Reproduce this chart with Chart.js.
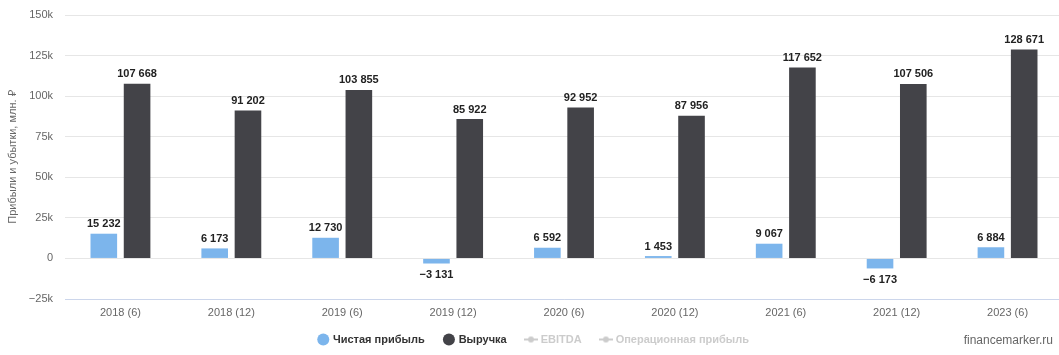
<!DOCTYPE html>
<html>
<head>
<meta charset="utf-8">
<script src="https://cdn.jsdelivr.net/npm/chart.js@4/dist/chart.umd.min.js"></script>
<style>
  html, body { margin: 0; padding: 0; background: #fff; overflow: hidden; width: 1059px; height: 355px; }
  #wrap { position: absolute; left: 0; top: 0; width: 1068px; height: 355px; }
  #credit { position: absolute; right: 6px; top: 333px; font: 12px "Liberation Sans", Arial, sans-serif; color: #666; }
</style>
</head>
<body>
<div id="wrap"><canvas id="c"></canvas></div>
<div id="credit">financemarker.ru</div>
<script>
const categories = ["2018 (6)", "2018 (12)", "2019 (6)", "2019 (12)", "2020 (6)", "2020 (12)", "2021 (6)", "2021 (12)", "2023 (6)"];
const netProfit = [15232, 6173, 12730, -3131, 6592, 1453, 9067, -6173, 6884];
const revenue = [107668, 91202, 103855, 85922, 92952, 87956, 117652, 107506, 128671];
const ebitda = [null, null, null, null, null, null, null, null, null];
const opProfit = [null, null, null, null, null, null, null, null, null];
const yTicks = [-25000, 0, 25000, 50000, 75000, 100000, 125000, 150000];
const seriesNames = ["Чистая прибыль", "Выручка", "EBITDA", "Операционная прибыль"];
const yTitle = "Прибыли и убытки, млн. ₽";

const FONT = '"Liberation Sans", Arial, sans-serif';

function fmt(v) {
  const s = Math.abs(v).toString().replace(/\B(?=(\d{3})+(?!\d))/g, ' ');
  return (v < 0 ? '−' : '') + s;
}

function lineMarker(color) {
  const c = document.createElement('canvas');
  c.width = 14; c.height = 8;
  const g = c.getContext('2d');
  g.strokeStyle = color; g.lineWidth = 2;
  g.beginPath(); g.moveTo(0, 4); g.lineTo(14, 4); g.stroke();
  g.fillStyle = color;
  g.beginPath(); g.arc(7, 4, 3, 0, Math.PI * 2); g.fill();
  return c;
}

const dataLabels = {
  id: 'dataLabels',
  afterDatasetsDraw(chart) {
    const ctx = chart.ctx;
    ctx.save();
    ctx.font = 'bold 11px ' + FONT;
    ctx.fillStyle = '#222';
    ctx.textAlign = 'center';
    chart.data.datasets.forEach((ds, i) => {
      if (ds.type === 'line') return;
      const meta = chart.getDatasetMeta(i);
      meta.data.forEach((bar, j) => {
        const v = ds.data[j];
        if (v == null) return;
        if (v >= 0) {
          ctx.textBaseline = 'bottom';
          ctx.fillText(fmt(v), bar.x, bar.y - 4);
        } else {
          ctx.textBaseline = 'top';
          ctx.fillText(fmt(v), bar.x, bar.y + 6);
        }
      });
    });
    ctx.restore();
  }
};

const legendShift = {
  id: 'legendShift',
  afterLayout(chart) {
    if (chart.legend) {
      chart.legend.top -= 5;
      chart.legend.bottom -= 5;
    }
  }
};

const greyMarker = lineMarker('#cccccc');

new Chart(document.getElementById('c'), {
  type: 'bar',
  data: {
    labels: categories,
    datasets: [
      { label: seriesNames[0], data: netProfit, backgroundColor: '#7cb5ec', categoryPercentage: 0.6, barPercentage: 0.8 },
      { label: seriesNames[1], data: revenue, backgroundColor: '#434348', categoryPercentage: 0.6, barPercentage: 0.8 },
      { type: 'line', label: seriesNames[2], data: ebitda, borderColor: '#cccccc', backgroundColor: '#cccccc' },
      { type: 'line', label: seriesNames[3], data: opProfit, borderColor: '#cccccc', backgroundColor: '#cccccc' }
    ]
  },
  options: {
    responsive: true,
    maintainAspectRatio: false,
    animation: false,
    layout: { padding: { left: 0, right: 0, top: 15, bottom: 0 } },
    plugins: {
      tooltip: { enabled: false },
      legend: {
        position: 'bottom',
        onClick: null,
        maxHeight: 36,
        labels: {
          usePointStyle: true,
          boxWidth: 8.5,
          boxHeight: 8.5,
          padding: 20,
          font: { family: FONT, size: 11, weight: 'bold' },
          generateLabels(chart) {
            return chart.data.datasets.map((ds, i) => {
              const faded = ds.type === 'line';
              return {
                text: ds.label,
                fillStyle: faded ? '#cccccc' : ds.backgroundColor,
                strokeStyle: faded ? '#cccccc' : ds.backgroundColor,
                lineWidth: 0,
                fontColor: faded ? '#cccccc' : '#333333',
                pointStyle: faded ? greyMarker : 'circle',
                hidden: false,
                datasetIndex: i
              };
            });
          }
        }
      }
    },
    scales: {
      x: {
        grid: { display: false, drawTicks: false },
        border: { display: true, color: '#ccd6eb' },
        ticks: { color: '#666', font: { family: FONT, size: 11 }, padding: 7 },
        afterFit(scale) {
          const lh = scale.chart.legend ? scale.chart.legend.height : 36;
          scale.height = Math.max(8, 355 - 299 - lh);
        }
      },
      y: {
        min: -25000,
        max: 150000,
        afterBuildTicks(scale) { scale.ticks = yTicks.map(v => ({ value: v })); },
        grid: { color: '#e6e6e6', drawTicks: false },
        border: { display: false },
        ticks: {
          color: '#666',
          font: { family: FONT, size: 11 },
          padding: 12,
          callback(v) { return v === 0 ? '0' : (v < 0 ? '−' : '') + Math.abs(v / 1000) + 'k'; }
        },
        title: { display: true, text: yTitle, color: '#666', font: { family: FONT, size: 11 }, padding: { top: 6, bottom: 0 } },
        afterFit(scale) {
          scale.width = 65;
          scale.paddingTop = 0;
          scale.paddingBottom = 0;
        }
      }
    }
  },
  plugins: [dataLabels, legendShift]
});
</script>
</body>
</html>
